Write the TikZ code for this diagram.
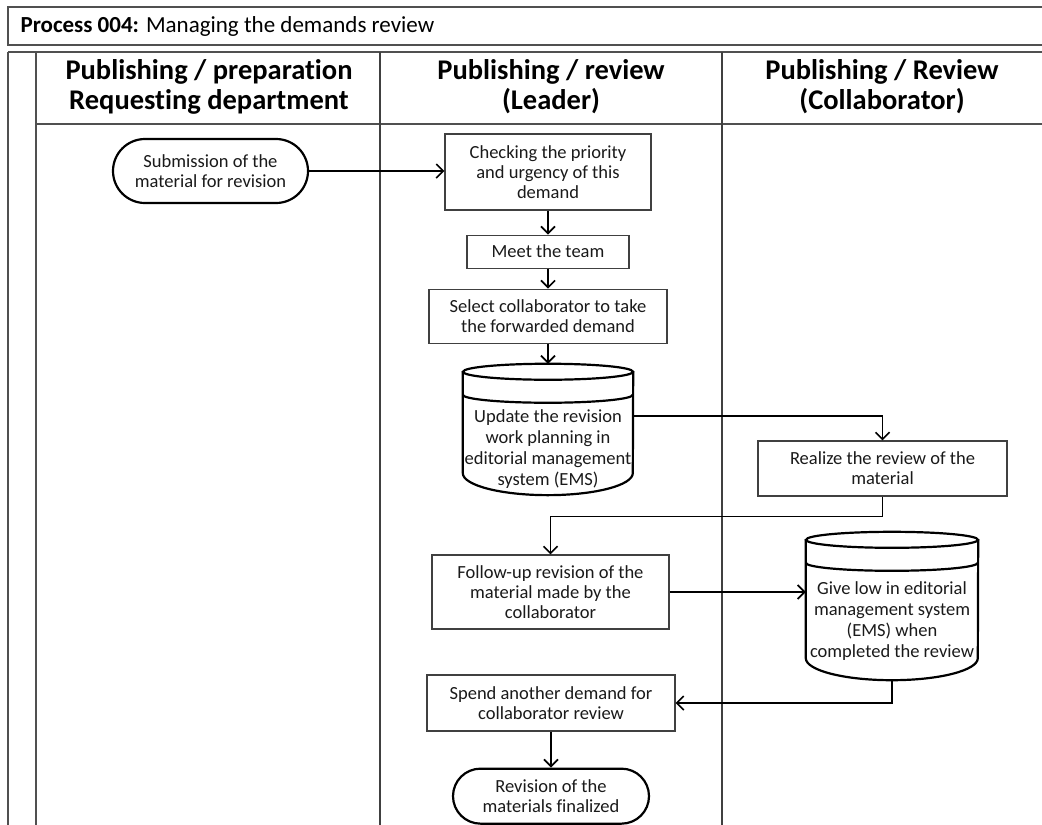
\documentclass[tikz,border=0pt]{standalone}
\usepackage{fontspec}
\setmainfont{Carlito}[Ligatures=NoCommon]
\usetikzlibrary{arrows.meta,positioning}
\definecolor{lanec}{HTML}{505050}
\definecolor{inkc}{HTML}{1A1A1A}
\tikzset{
  lane/.style={draw=lanec, line width=1.5pt},
  sep/.style={draw=lanec!80!black, line width=1.1pt},
  hdr/.style={font=\fontsize{28.5}{30}\selectfont\bfseries, align=center, inner sep=0pt},
  stepbox/.style={rectangle, draw=black!75, line width=1.1pt, fill=white, align=center,
                  inner sep=2pt, font=\fontsize{18.5}{20}\selectfont, text=inkc},
  termbox/.style={stepbox, draw=black, line width=2.2pt, rounded corners=#1},
  termbox/.default=30pt,
  dbbox/.style={rectangle, draw=none, inner sep=0pt},
  dbtxt/.style={align=center, inner sep=0pt, font=\fontsize{18.5}{21}\selectfont, text=inkc},
  dbline/.style={draw=black, line width=2.2pt},
  fl/.style={-{Straight Barb[length=7pt,width=14pt,line width=1.7pt]}, line width=1.7pt, draw=black},
}
\begin{document}
\begin{tikzpicture}[x=1pt,y=1pt,node distance=20pt]
  \useasboundingbox (0,0) rectangle (1042,-825);
  % title and swimlanes
  \draw[lane] (8,-7) rectangle (1060,-45);
  \node[anchor=west, font=\fontsize{23}{25}\selectfont] (title) at (17,-26) {\textbf{Process 004:} Managing the demands review};
  \draw[lane] (8,-52) -- (1060,-52);
  \draw[lane] (8,-52) -- (8,-840);
  \draw[lane] (36,-52) -- (36,-840);
  \draw[lane] (36,-124) -- (1060,-124);
  \draw[sep] (380,-52) -- (380,-840);
  \draw[sep] (722,-52) -- (722,-840);
  \node[hdr] (h1) at (209,-87) {Publishing / preparation\\Requesting department};
  \node[hdr] (h2) at (551,-87) {Publishing / review\\(Leader)};
  \node[hdr] (h3) at (882,-87) {Publishing / Review\\(Collaborator)};

  % leader column
  \node[termbox=32pt, minimum width=195pt, minimum height=64pt] (submit) at (210.5,-171) {Submission of the\\material for revision};
  \node[stepbox, minimum width=206pt, minimum height=76pt] (check) at (548,-172) {Checking the priority\\and urgency of this\\demand};
  \node[stepbox, minimum width=162pt, minimum height=33pt, below=24pt of check] (meet) {Meet the team};
  \node[stepbox, minimum width=238pt, minimum height=54pt, below=of meet] (select) {Select collaborator to take\\the forwarded demand};
  \node[dbbox, minimum width=170pt, minimum height=131pt, below=of select] (db1) {};
  \node[dbtxt] (db1txt) at ([yshift=-20pt]db1.center) {Update the revision\\work planning in\\editorial management\\system (EMS)};
  \node[stepbox, minimum width=237pt, minimum height=74pt] (follow) at (550.5,-592) {Follow-up revision of the\\material made by the\\collaborator};
  \node[stepbox, minimum width=248pt, minimum height=56pt] (spend) at (551,-703) {Spend another demand for\\collaborator review};
  \node[termbox=27.5pt, minimum width=196pt, minimum height=55pt, below=36pt of spend] (final) {Revision of the\\materials finalized};

  % collaborator column
  \node[stepbox, minimum width=249pt, minimum height=55pt] (realize) at (882.5,-468.5) {Realize the review of the\\material};
  \node[dbbox, minimum width=172pt, minimum height=148pt] (db2) at (892,-606) {};
  \node[dbtxt] (db2txt) at ([yshift=-15pt]db2.center) {Give low in editorial\\management system\\(EMS) when\\completed the review};

  % data stores
  \foreach \db/\rx in {db1/85,db2/86}{
    \draw[dbline] ([yshift=-8pt]\db.north) ellipse[x radius=\rx pt, y radius=8pt];
    \draw[dbline] ([yshift=-8pt]\db.north west) -- ([yshift=22pt]\db.south west)
      arc[start angle=180, end angle=360, x radius=\rx pt, y radius=22pt] -- ([yshift=-8pt]\db.north east);
    \draw[dbline] ([yshift=-31pt]\db.north west) arc[start angle=180, end angle=360, x radius=\rx pt, y radius=8pt];
  }

  % flow
  \draw[fl] (submit.east) -- (submit.east -| check.west);
  \draw[fl] (check) -- (meet);
  \draw[fl] (meet) -- (select);
  \draw[fl] (select) -- (db1);
  \draw[fl] ([yshift=13.5pt]db1.east) -| (realize.north);
  \draw[fl] (realize.south) -- ++(0,-20) -| (follow.north);
  \draw[fl] (follow.east) -- (follow.east -| db2.west);
  \draw[fl] (db2.south) |- (spend.east);
  \draw[fl] (spend) -- (final);
\end{tikzpicture}
\end{document}
